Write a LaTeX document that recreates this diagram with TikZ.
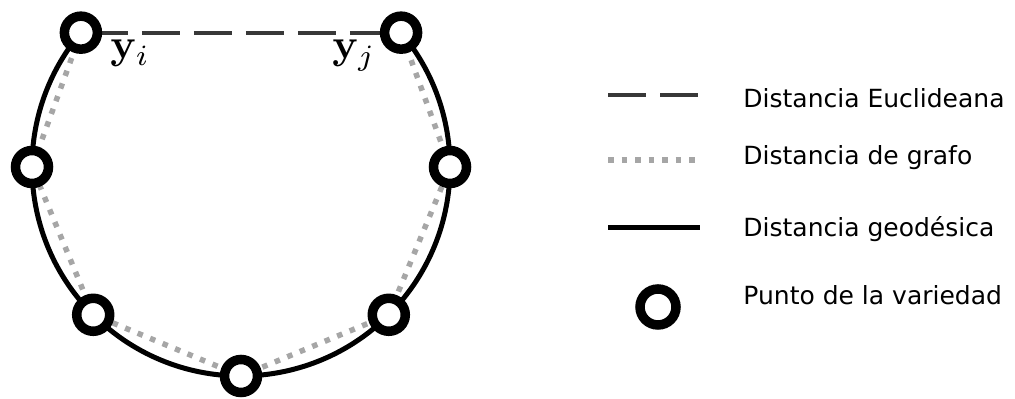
\documentclass[tikz,border=0pt]{standalone}
\usepackage[no-math]{fontspec}
\newfontfamily\legendfont{DejaVu Sans}
\usetikzlibrary{backgrounds}

\tikzset{
  punto/.style={circle, draw=black, fill=white, line width=4.75pt,
    minimum size=16.5pt, inner sep=0pt},
  euclid/.style={draw=black!78, line width=2pt, dash pattern=on 19pt off 7pt},
  grafo/.style={draw=black!35, line width=2.75pt, dash pattern=on 2.75pt off 4pt},
  geodesica/.style={draw=black, line width=2.5pt},
  leyenda/.style={anchor=base west, inner sep=0pt,
    font=\legendfont\fontsize{12.5}{15}\selectfont},
  etiqueta/.style={anchor=base, inner sep=0pt, scale=2.1},
}

\begin{document}
\begin{tikzpicture}[x=0.5pt, y=0.5pt]
  \useasboundingbox (0,0) rectangle (1015,-399);
  % centre of the manifold arc, radius 209
  \coordinate (c) at (241,-167);
  % points of the manifold
  \foreach \a/\n in {140/1, 180/2, 225/3, 270/4, 315/5, 360/6, 400/7}{
    \node[punto] (p\n) at ([shift={(\a:209)}]c) {};
  }
  % labels of the two end points
  \node[etiqueta] (li) at (130,-59) {$\mathbf{y}_i$};
  \node[etiqueta] (lj) at (354,-59) {$\mathbf{y}_j$};
  % distances, behind the points
  \begin{scope}[on background layer]
    \draw[geodesica] (p1.center) arc[start angle=140, end angle=400, radius=209];
    \draw[grafo] (p1.center) -- (p2.center) -- (p3.center) -- (p4.center)
      -- (p5.center) -- (p6.center) -- (p7.center);
    \draw[euclid, dash phase=21.5pt] (p1.center) -- (p7.center);
  \end{scope}
  % legend
  \draw[euclid] (608,-95) -- (700,-95);
  \draw[grafo] (608,-160) -- (700,-160);
  \draw[geodesica] (608,-228) -- (700,-228);
  \node[punto, minimum size=18pt] (lp) at (658,-307) {};
  \node[leyenda] (t1) at (743,-108) {Distancia Euclideana};
  \node[leyenda] (t2) at (743,-165) {Distancia de grafo};
  \node[leyenda] (t3) at (743,-237) {Distancia geodésica};
  \node[leyenda] (t4) at (743,-305) {Punto de la variedad};
\end{tikzpicture}
\end{document}
